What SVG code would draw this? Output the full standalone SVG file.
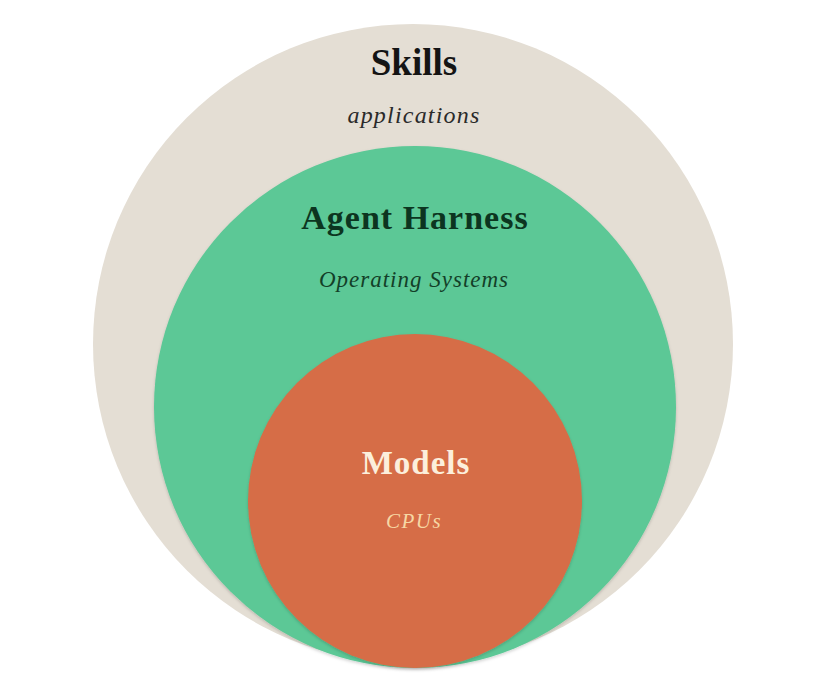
<svg xmlns="http://www.w3.org/2000/svg" width="828" height="688" viewBox="0 0 828 688">
  <defs>
    <filter id="sh" x="-10%" y="-10%" width="120%" height="120%">
      <feDropShadow dx="0" dy="1.5" stdDeviation="1.5" flood-color="#000" flood-opacity="0.18"/>
    </filter>
  </defs>
  <style>
    .title { font-family: "Liberation Serif", "Times New Roman", serif; font-weight: bold; text-anchor: middle; }
    .sub { font-family: "Liberation Serif", "Times New Roman", serif; font-style: italic; text-anchor: middle; }
  </style>
  <rect width="828" height="688" fill="#ffffff"/>
  <g id="skills">
    <circle cx="413" cy="344" r="320" fill="#e4ded4"/>
    <text class="title" x="414" y="75" font-size="37" fill="#141414">Skills</text>
    <text class="sub" x="414" y="123" font-size="24" letter-spacing="1.2" fill="#2a2a2a">applications</text>
  </g>
  <g id="agent-harness">
    <circle cx="415" cy="407" r="261" fill="#5cc896" filter="url(#sh)"/>
    <text class="title" x="415" y="229" font-size="34" letter-spacing="1" fill="#0c3520">Agent Harness</text>
    <text class="sub" x="414" y="287" font-size="23" letter-spacing="1" fill="#133f28">Operating Systems</text>
  </g>
  <g id="models">
    <circle cx="415" cy="501" r="167" fill="#d66d47" filter="url(#sh)"/>
    <text class="title" x="416" y="474" font-size="33" letter-spacing="1" fill="#fcefdc">Models</text>
    <text class="sub" x="414" y="528" font-size="21" letter-spacing="1.5" fill="#f6d7a4">CPUs</text>
  </g>
  <g id="connectors"/>
</svg>
